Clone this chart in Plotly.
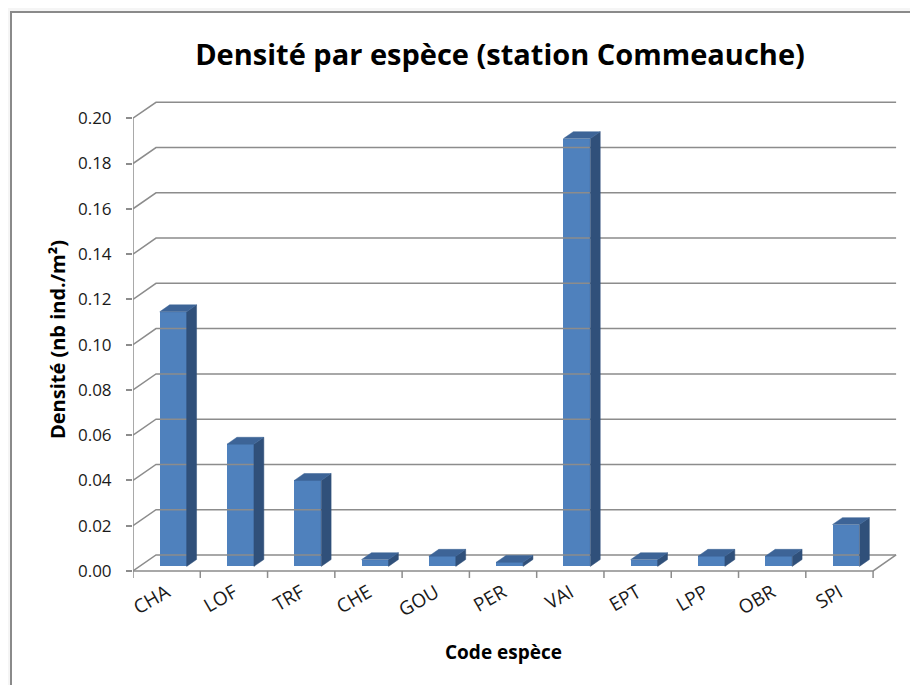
import plotly.graph_objects as go

# ---- data ----
categories = ["CHA", "LOF", "TRF", "CHE", "GOU", "PER", "VAI", "EPT", "LPP", "OBR", "SPI"]
densite = [0.1125, 0.054, 0.038, 0.003, 0.0045, 0.0018, 0.189, 0.003, 0.0045, 0.0045, 0.0185]
y_ticks = [0.00, 0.02, 0.04, 0.06, 0.08, 0.10, 0.12, 0.14, 0.16, 0.18, 0.20]
y_tick_labels = ["%.2f" % v for v in y_ticks]

# ---- 3D look parameters (style) ----
DX = 0.342      # depth offset in category units
DY = 0.00706    # depth offset in data units
F0 = 0.285      # front position of bars (fraction of depth)
FB = 0.43       # bar depth (fraction of depth)
BAR_W = 0.40
GRID = "#8c8c8c"
FRONT = "#4F81BD"
SIDE = "#30507A"
TOP = "#3D6497"
FONT = "Open Sans"

n = len(categories)
xs = list(range(n))
left = -0.5
right = n - 0.5

fig = go.Figure()

# back wall gridlines with diagonal connectors
gx, gy = [], []
for v in y_ticks:
    gx += [left, left + DX, right + DX, None]
    gy += [v, v + DY, v + DY, None]
fig.add_trace(go.Scatter(x=gx, y=gy, mode="lines", line=dict(color=GRID, width=1.5),
                         hoverinfo="skip", showlegend=False))

# floor front edge, right diagonal, front vertical axis
fx = [left, right, right + DX, None, left, left]
fy = [0, 0, DY, None, 0, y_ticks[-1]]
fig.add_trace(go.Scatter(x=fx, y=fy, mode="lines", line=dict(color=GRID, width=1.5),
                         hoverinfo="skip", showlegend=False))

# category boundary tick marks
tx, ty = [], []
for i in range(n + 1):
    b = left + i
    tx += [b, b, None]
    ty += [0, -0.0031, None]
fig.add_trace(go.Scatter(x=tx, y=ty, mode="lines", line=dict(color=GRID, width=1.5),
                         hoverinfo="skip", showlegend=False))

# bar geometry derived from data
base = F0 * DY
centers = [x + F0 * DX for x in xs]
sx, sy, px, py = [], [], [], []
for c, v in zip(centers, densite):
    xl = c - BAR_W / 2
    xr = c + BAR_W / 2
    top = base + v
    ddx, ddy = FB * DX, FB * DY
    sx += [xr, xr + ddx, xr + ddx, xr, xr, None]
    sy += [base, base + ddy, top + ddy, top, base, None]
    px += [xl, xr, xr + ddx, xl + ddx, xl, None]
    py += [top, top, top + ddy, top + ddy, top, None]

fig.add_trace(go.Scatter(x=sx, y=sy, mode="lines", fill="toself", fillcolor=SIDE,
                         line=dict(color=SIDE, width=0.5), hoverinfo="skip", showlegend=False))
fig.add_trace(go.Scatter(x=px, y=py, mode="lines", fill="toself", fillcolor=TOP,
                         line=dict(color=TOP, width=0.5), hoverinfo="skip", showlegend=False))
fig.add_trace(go.Bar(x=centers, y=densite, base=base, width=BAR_W,
                     marker=dict(color=FRONT, line=dict(width=0)), showlegend=False))

# page offset (browser default body margin)
OFF = 8
W, H = 918, 685
ml, mr, mt, mb = 133 - OFF, 26, 99 - OFF, 113
pw, ph = W - ml - mr, H - mt - mb
def px2paper_x(p):
    return (p - OFF - ml) / pw
def px2paper_y(p):
    return (H - mb - (p - OFF)) / ph

# chart border (white panel with gray frame)
fig.add_shape(type="rect", xref="paper", yref="paper",
              x0=px2paper_x(11), x1=px2paper_x(960), y0=px2paper_y(740), y1=px2paper_y(12),
              fillcolor="white", line=dict(color="#8a8a8a", width=2), layer="below")

fig.update_layout(
    width=W, height=H, autosize=False,
    margin=dict(l=ml, r=mr, t=mt, b=mb),
    paper_bgcolor="#f5f5f5",
    plot_bgcolor="rgba(0,0,0,0)",
    bargap=0,
    title=dict(text="<b>Densité par espèce (station Commeauche)</b>",
               x=(500 - OFF) / W, xanchor="center", y=1 - (55 - OFF) / H, yanchor="middle",
               font=dict(family=FONT, size=29, color="#000000")),
    xaxis=dict(range=[left, right + 0.4], tickmode="array", tickvals=xs, ticktext=categories,
               tickangle=-30, showgrid=False, zeroline=False, showline=False, ticks="",
               ticklabelstandoff=-3,
               tickfont=dict(family=FONT, size=19, color="#1a1a1a")),
    yaxis=dict(range=[-0.004, 0.2085], tickmode="array", tickvals=y_ticks, ticktext=y_tick_labels,
               showgrid=False, zeroline=False, showline=False, ticks="outside", ticklen=6,
               tickcolor=GRID, tickwidth=1.5, ticklabelstandoff=11,
               tickfont=dict(family=FONT, size=17, color="#1a1a1a"),
               title=dict(text="<b>Densité (nb ind./m²)</b>", standoff=6,
                          font=dict(family=FONT, size=20, color="#000000"))),
    annotations=[dict(text="<b>Code espèce</b>", xref="paper", yref="paper",
                      x=px2paper_x(503), y=px2paper_y(652), xanchor="center", yanchor="middle",
                      showarrow=False, font=dict(family=FONT, size=19, color="#000000"))],
)

fig.write_html("out.html")
